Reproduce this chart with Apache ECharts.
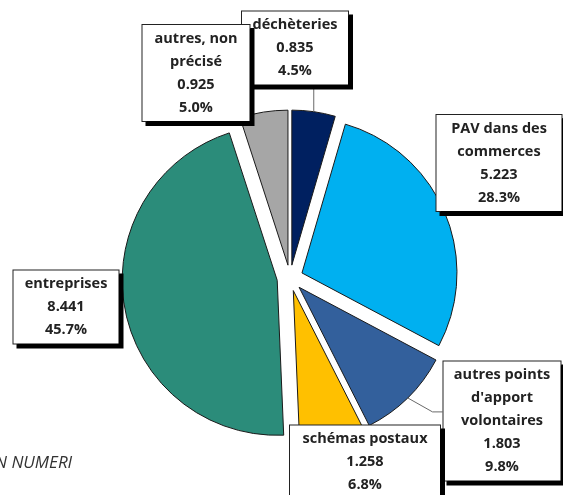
<!DOCTYPE html>
<html>
<head>
<meta charset="utf-8">
<script src="https://cdn.jsdelivr.net/npm/echarts@6/dist/echarts.min.js"></script>
<style>
  html, body { margin: 0; padding: 0; background: #fff; }
  #chart { width: 563px; height: 495px; }
</style>
</head>
<body>
<div id="chart"></div>
<script>
// données (clockwise from 12 o'clock)
var categories = ['déchèteries', 'PAV dans des\ncommerces', 'autres points\nd\'apport\nvolontaires',
    'schémas postaux', 'entreprises', 'autres, non\nprécisé'];
var values = [0.835, 5.223, 1.803, 1.258, 8.441, 0.925];
var colors = ['#002060', '#00B0F0', '#33609C', '#FFC000', '#2B8C7A', '#A6A6A6'];

// label boxes: centre x, centre y, width (layout only)
var boxes = [
    [295, 48, 106],
    [499, 163, 125],
    [502, 421, 117],
    [365, 462, 150],
    [66, 307, 105],
    [196, 73, 107]
];
// connector style: 'up' = vertical to box bottom, 'elbow' = bent to box left, null = none
var connectors = ['up', null, 'elbow', null, null, null];

var total = values.reduce(function (a, b) { return a + b; }, 0);
var R = 155, OFFSET = 13;

var chart = echarts.init(document.getElementById('chart'));

// exploded slices
var sliceData = values.map(function (v, i) {
    return {
        name: categories[i],
        value: v,
        selected: true,
        itemStyle: { color: colors[i] },
        select: { itemStyle: { color: colors[i], borderColor: '#1a1a1a', borderWidth: 1 } }
    };
});

// invisible ring carrying the boxed labels (radius = exploded arc)
var labelData = values.map(function (v, i) {
    return {
        name: categories[i],
        value: v,
        label: { width: boxes[i][2] - 10 },
        labelLine: { show: connectors[i] !== null }
    };
});

var option = {
    animation: false,
    backgroundColor: '#fff',
    graphic: [{
        type: 'text',
        left: -5,
        top: 455,
        style: {
            text: 'N NUMERI',
            font: 'italic 17px "Open Sans"',
            fill: '#333'
        }
    }],
    series: [{
        type: 'pie',
        center: [290, 278],
        radius: R,
        startAngle: 90,
        clockwise: true,
        selectedMode: 'multiple',
        selectedOffset: OFFSET,
        silent: true,
        label: { show: false },
        labelLine: { show: false },
        itemStyle: {
            borderColor: '#1a1a1a',
            borderWidth: 1
        },
        data: sliceData
    }, {
        type: 'pie',
        center: [290, 278],
        radius: R + OFFSET,
        startAngle: 90,
        clockwise: true,
        silent: true,
        z: 5,
        data: labelData,
        itemStyle: { color: 'rgba(0,0,0,0)', borderWidth: 0 },
        label: {
            show: true,
            position: 'outside',
            formatter: function (p) {
                return p.name + '\n' + p.value.toFixed(3) + '\n' + (p.value / total * 100).toFixed(1) + '%';
            },
            fontFamily: '"Open Sans"',
            fontSize: 14.5,
            fontWeight: 'bold',
            color: '#222',
            lineHeight: 23,
            align: 'center',
            overflow: 'none',
            backgroundColor: '#fff',
            borderColor: '#222',
            borderWidth: 1,
            padding: [2, 5],
            shadowColor: '#000',
            shadowOffsetX: 4,
            shadowOffsetY: 4,
            shadowBlur: 0
        },
        labelLine: {
            length: 10,
            length2: 10,
            lineStyle: { color: '#6a6a6a', width: 1 }
        },
        labelLayout: function (p) {
            var b = boxes[p.dataIndex];
            var out = { x: b[0], y: b[1], align: 'center', verticalAlign: 'middle' };
            var a = p.labelLinePoints && p.labelLinePoints[0];
            var kind = connectors[p.dataIndex];
            if (a && kind === 'up') {
                var bottom = b[1] + p.labelRect.height / 2;
                out.labelLinePoints = [a, [a[0], bottom], [a[0], bottom]];
            } else if (a && kind === 'elbow') {
                var left = b[0] - p.labelRect.width / 2;
                out.labelLinePoints = [a, [left - 10, a[1] + 14], [left, a[1] + 14]];
            }
            return out;
        }
    }]
};

chart.setOption(option);
</script>
</body>
</html>
